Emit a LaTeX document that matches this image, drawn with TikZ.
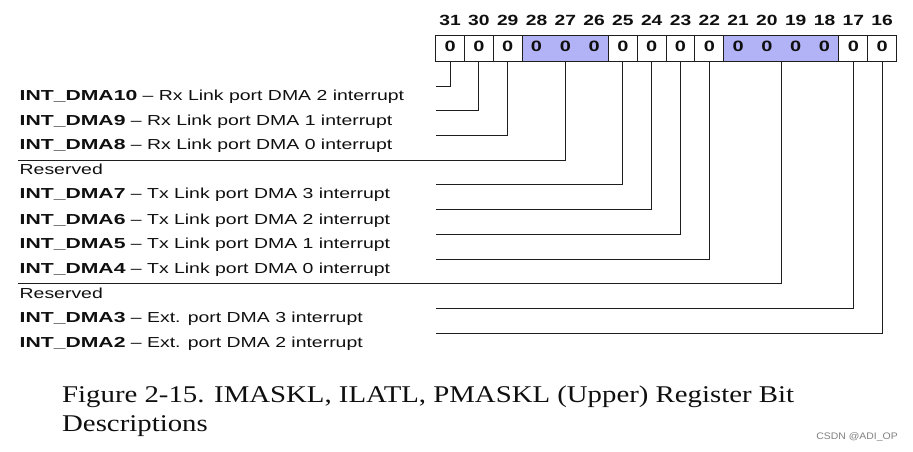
\documentclass[tikz,border=0pt]{standalone}
\usepackage{fontspec}
\setmainfont{Liberation Sans}
\newfontfamily\labreg[FakeStretch=1.34]{Liberation Sans}
\newfontfamily\labbold[FakeStretch=1.46]{Liberation Sans}
\newfontfamily\numfont[FakeStretch=1.3]{Liberation Sans}
\newfontfamily\digfont[FakeStretch=1.33]{Liberation Sans}
\newfontfamily\capfont[FakeStretch=1.2]{Liberation Serif}
\newfontfamily\wmfont[FakeStretch=1.1]{Liberation Sans}
\definecolor{grp}{RGB}{178,178,246}
\definecolor{ink}{RGB}{15,15,15}
\definecolor{wline}{RGB}{30,30,30}
\newcommand{\lab}[2]{{\labbold\bfseries #1}~\textendash~#2}
\tikzset{
  cell/.style={rectangle, draw=wline, line width=0.9pt, minimum width=28.8pt, minimum height=26.4pt, inner sep=0pt, outer sep=0pt},
  grpcell/.style={cell, fill=grp},
  digit/.style={anchor=base, inner sep=0pt, text=ink, font=\digfont\fontsize{15}{17}\selectfont\bfseries},
  bitnum/.style={anchor=base, inner sep=0pt, text=ink, font=\numfont\fontsize{14.8}{17}\selectfont\bfseries},
  label/.style={anchor=base west, inner sep=0pt, text=ink, font=\labreg\fontsize{14.5}{17}\selectfont},
  conn/.style={draw=wline, line width=0.9pt},
  capt/.style={anchor=base west, inner sep=0pt, text=ink, font=\capfont\fontsize{24}{28}\selectfont},
}
\begin{document}
\begin{tikzpicture}[x=1pt,y=-1pt]
\useasboundingbox (0,0) rectangle (913,452);
\def\xo{435.7}
\def\cw{28.8}
% bit numbers
\foreach \b in {31,30,...,16} {
  \pgfmathsetmacro\cx{\xo+(31-\b+0.5)*\cw}
  \node[bitnum] (n\b) at (\cx,25.3) {\b};
}
% group cells (shaded)
\node[grpcell, minimum width=86.4pt] (g2826) at (565.3,48.5) {};
\node[grpcell, minimum width=115.2pt] (g2118) at (781.3,48.5) {};
% single cells
\foreach \b in {31,30,29,25,24,23,22,17,16} {
  \pgfmathsetmacro\cx{\xo+(31-\b+0.5)*\cw}
  \node[cell] (c\b) at (\cx,48.5) {};
}
\foreach \b in {31,30,...,16} {
  \pgfmathsetmacro\cx{\xo+(31-\b+0.5)*\cw}
  \node[digit] (z\b) at (\cx,51.9) {0};
}
% free ends of connectors
\coordinate (e31) at (435.7,86);
\coordinate (e30) at (435.7,110.8);
\coordinate (e29) at (435.7,135.6);
\coordinate (e2826) at (18,160.2);
\coordinate (e25) at (435.7,184.9);
\coordinate (e24) at (435.7,209.6);
\coordinate (e23) at (435.7,234.3);
\coordinate (e22) at (435.7,259.1);
\coordinate (e2118) at (18,283.6);
\coordinate (e17) at (435.7,308.4);
\coordinate (e16) at (435.7,333.3);
% connectors
\foreach \b in {31,30,29,25,24,23,22,17,16} {
  \draw[conn] (c\b.south) |- (e\b);
}
\draw[conn] (g2826.south) |- (e2826);
\draw[conn] (g2118.south) |- (e2118);
% labels
\node[label] (t0) at (19.5,100.8) {\lab{INT\_DMA10}{Rx Link port DMA 2 interrupt}};
\node[label] (t1) at (19.5,125.5) {\lab{INT\_DMA9}{Rx Link port DMA 1 interrupt}};
\node[label] (t2) at (19.5,149.6) {\lab{INT\_DMA8}{Rx Link port DMA 0 interrupt}};
\node[label] (t3) at (19.5,174.8) {Reserved};
\node[label] (t4) at (19.5,198.9) {\lab{INT\_DMA7}{Tx Link port DMA 3 interrupt}};
\node[label] (t5) at (19.5,224.5) {\lab{INT\_DMA6}{Tx Link port DMA 2 interrupt}};
\node[label] (t6) at (19.5,248.8) {\lab{INT\_DMA5}{Tx Link port DMA 1 interrupt}};
\node[label] (t7) at (19.5,273.8) {\lab{INT\_DMA4}{Tx Link port DMA 0 interrupt}};
\node[label] (t8) at (19.5,298.3) {Reserved};
\node[label] (t9) at (19.5,322.9) {\lab{INT\_DMA3}{Ext. port DMA 3 interrupt}};
\node[label] (t10) at (19.5,347.3) {\lab{INT\_DMA2}{Ext. port DMA 2 interrupt}};
% caption
\node[capt] (cap1) at (62,402.5) {Figure 2-15. IMASKL, ILATL, PMASKL (Upper) Register Bit};
\node[capt] (cap2) at (62,431.7) {Descriptions};
% watermark
\node[anchor=base east, inner sep=0pt, text=black!50, font=\wmfont\fontsize{9.5}{11}\selectfont] (wm) at (898,439.5) {CSDN @ADI\_OP};
\end{tikzpicture}
\end{document}
